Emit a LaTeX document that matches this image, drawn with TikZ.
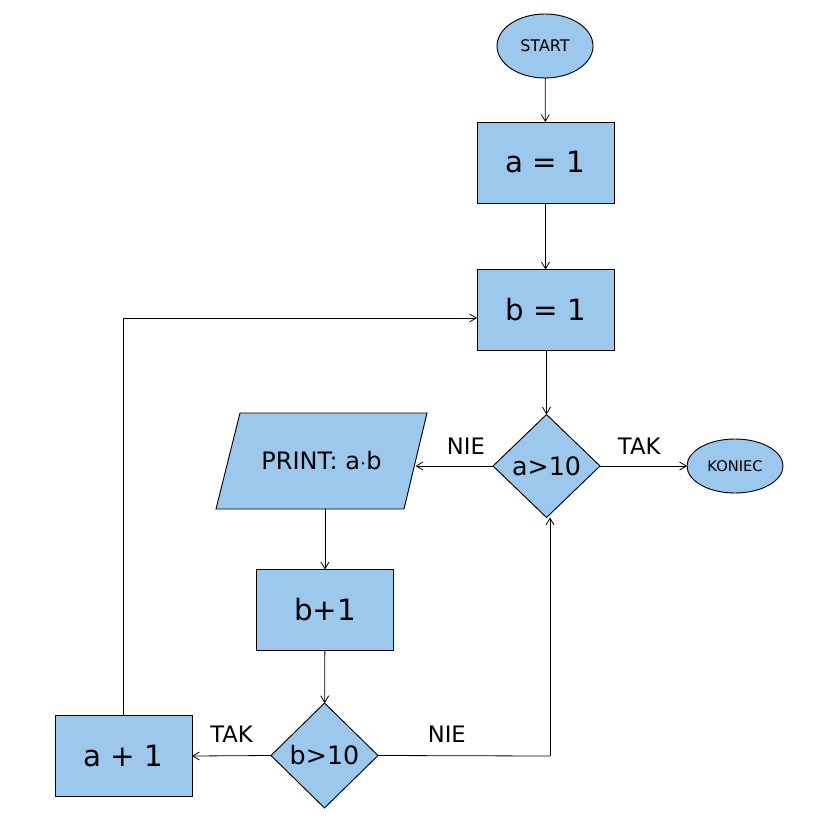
\documentclass[tikz,border=0pt]{standalone}
\usepackage{fontspec}
\setmainfont{DejaVu Sans}
\usetikzlibrary{shapes.geometric,arrows.meta}
\definecolor{boxblue}{RGB}{157,200,238}
\tikzset{
  every node/.style={inner sep=0pt, outer sep=0pt},
  shapeline/.style={draw=black, fill=boxblue, line width=0.7pt},
  procbox/.style={shapeline, minimum width=137*0.75pt, minimum height=81*0.75pt, font=\fontsize{22}{26}\selectfont},
  termbox/.style={shapeline, ellipse},
  decbox/.style={shapeline, diamond, font=\fontsize{19}{22}\selectfont},
  iotext/.style={font=\fontsize{18}{22}\selectfont},
  lbl/.style={font=\fontsize{17}{20}\selectfont},
  conn/.style={draw=black, line width=0.6pt, -{Straight Barb[length=5pt,width=6pt]}},
  plain/.style={draw=black, line width=0.6pt}
}
\begin{document}
\begin{tikzpicture}[x=0.75pt,y=-0.75pt]
\useasboundingbox (0,0) rectangle (819,827);
\node[termbox, minimum width=96*0.75pt, minimum height=64*0.75pt, font=\fontsize{12}{14}\selectfont] (start) at (545,46) {START};
\node[procbox] (a1) at (545.5,162.5) {a = 1};
\node[procbox] (b1) at (545.5,310) {b = 1};
\node[decbox, minimum width=107*0.75pt, minimum height=103*0.75pt] (d1) at (546.5,466) {a>10};
\node[termbox, minimum width=96*0.75pt, minimum height=54*0.75pt, font=\fontsize{11}{13}\selectfont] (end) at (735,466) {KONIEC};
% parallelogram (input/output)
\path[shapeline] (240,413) -- (427,413) -- (404,509) -- (216,509) -- cycle;
\node[iotext] (print) at (321.5,461) {PRINT: a$\cdot$b};
\coordinate (printE) at (415.5,466);
\coordinate (printS) at (325,509);
\node[procbox] (bp1) at (325,610) {b+1};
\node[decbox, minimum width=107*0.75pt, minimum height=105*0.75pt] (d2) at (324.5,755.5) {b>10};
\node[procbox] (ap1) at (123.5,756) {a + 1};
\coordinate (c1) at (550,756);
\coordinate (c2) at (123,318);
% connectors
\draw[conn] (start) -- (a1);
\draw[conn] (a1) -- (b1);
\draw[conn] (b1.south -| d1.north) -- (d1.north);
\draw[conn] (d1.west) -- (printE) node[lbl, pos=0.35, above=9pt] {NIE};
\draw[conn] (d1.east) -- (end.west) node[lbl, pos=0.45, above=9pt] {TAK};
\draw[conn] (printS) -- (bp1.north);
\draw[conn] (bp1) -- (d2);
\draw[conn] (d2.west) -- (ap1.east) node[lbl, midway, above=10pt] {TAK};
\draw[plain] (d2.east) -- (c1) node[lbl, pos=0.4, above=10pt] {NIE};
\draw[conn] (c1) -- (c1 |- d1.south);
\draw[plain] (ap1.north -| c2) -- (c2);
\draw[conn] (c2) -- (c2 -| b1.west);
\end{tikzpicture}
\end{document}
